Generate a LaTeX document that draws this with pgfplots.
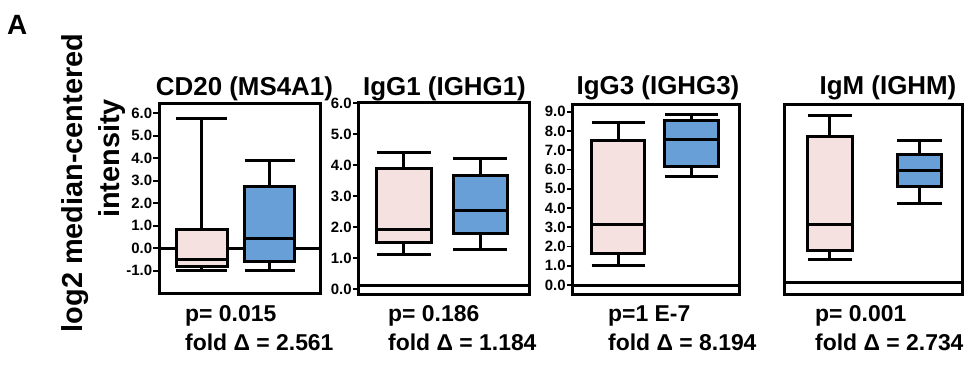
\documentclass[border=0pt]{standalone}
\usepackage{pgfplots}
\pgfplotsset{compat=1.18}
\usepgfplotslibrary{statistics}
\usepackage{fontspec}
\setmainfont{Liberation Sans}
\definecolor{pinkfill}{RGB}{245,226,224}
\definecolor{bluefill}{RGB}{103,159,214}
\pgfplotsset{
  panel/.style={
    scale only axis, anchor=south west,
    xmin=0, xmax=1, xtick=\empty,
    boxplot/draw direction=y,
    axis line style={line width=3bp},
    ytick pos=left, tick align=outside,
    major tick length=6bp,
    every tick/.style={black, line width=1.8bp},
    yticklabel style={font=\fontsize{15}{15}\selectfont\bfseries, inner xsep=1bp},
    /pgf/number format/assume math mode=true,
    /pgf/number format/fixed,
    /pgf/number format/fixed zerofill,
    /pgf/number format/precision=1,
    clip=false,
  },
  bx/.style={line width=3bp, draw=black, solid,
    boxplot/every median/.style={line width=3bp, draw=black},
    boxplot/every whisker/.style={line width=3bp, draw=black},
    boxplot/every box/.style={line width=3bp, draw=black}},
  zl/.style={line width=3bp, black, no marks},
}
\begin{document}
\begin{tikzpicture}
\useasboundingbox (0,0) rectangle (969bp,366bp);

% CD20
\begin{axis}[panel, at={(159.3bp,72.7bp)}, width=160.7bp, height=189.3bp,
  ymin=-2.0, ymax=6.41, ytick={-1,0,...,6}]
\addplot[zl] coordinates {(0,0) (1,0)};
\addplot[bx, fill=pinkfill, boxplot prepared={lower whisker=-0.97, lower quartile=-0.79, median=-0.52, upper quartile=0.83, upper whisker=5.75, draw position=0.264, box extend=0.32, whisker extend=0.32}] coordinates {};
\addplot[bx, fill=bluefill, boxplot prepared={lower whisker=-1.0, lower quartile=-0.6, median=0.42, upper quartile=2.76, upper whisker=3.91, draw position=0.687, box extend=0.31, whisker extend=0.31}] coordinates {};
\end{axis}

% IgG1
\begin{axis}[panel, at={(358.8bp,71.7bp)}, width=170.4bp, height=191.6bp,
  ymin=-0.17, ymax=6.02, ytick={0,1,...,6}]
\addplot[zl] coordinates {(0,0.12) (1,0.12)};
\addplot[bx, fill=pinkfill, boxplot prepared={lower whisker=1.11, lower quartile=1.51, median=1.92, upper quartile=3.89, upper whisker=4.4, draw position=0.264, box extend=0.32, whisker extend=0.32}] coordinates {};
\addplot[bx, fill=bluefill, boxplot prepared={lower whisker=1.27, lower quartile=1.78, median=2.54, upper quartile=3.68, upper whisker=4.21, draw position=0.713, box extend=0.315, whisker extend=0.315}] coordinates {};
\end{axis}

% IgG3
\begin{axis}[panel, at={(572.8bp,71.7bp)}, width=166.7bp, height=189.3bp,
  ymin=-0.48, ymax=9.35, ytick={0,1,...,9}]
\addplot[zl] coordinates {(0,0) (1,0)};
\addplot[bx, fill=pinkfill, boxplot prepared={lower whisker=1.0, lower quartile=1.63, median=3.17, upper quartile=7.5, upper whisker=8.42, draw position=0.273, box extend=0.32, whisker extend=0.32}] coordinates {};
\addplot[bx, fill=bluefill, boxplot prepared={lower whisker=5.65, lower quartile=6.17, median=7.58, upper quartile=8.55, upper whisker=8.87, draw position=0.713, box extend=0.32, whisker extend=0.32}] coordinates {};
\end{axis}

% IgM
\begin{axis}[panel, at={(784.5bp,71bp)}, width=178.3bp, height=190bp,
  ymin=-0.64, ymax=9.21, ytick=\empty]
\addplot[zl] coordinates {(0,0) (1,0)};
\addplot[bx, fill=pinkfill, boxplot prepared={lower whisker=1.21, lower quartile=1.66, median=3.04, upper quartile=7.56, upper whisker=8.69, draw position=0.255, box extend=0.25, whisker extend=0.25}] coordinates {};
\addplot[bx, fill=bluefill, boxplot prepared={lower whisker=4.11, lower quartile=4.98, median=5.84, upper quartile=6.62, upper whisker=7.36, draw position=0.758, box extend=0.25, whisker extend=0.25}] coordinates {};
\end{axis}

% titles
\begin{scope}[every node/.style={inner sep=0pt, font=\fontsize{26}{26}\selectfont\bfseries}]
\node[anchor=base] at (244.5bp,270bp) {CD20 (MS4A1)};
\node[anchor=base] at (444.5bp,270bp) {IgG1 (IGHG1)};
\node[anchor=base] at (658bp,271bp) {IgG3 (IGHG3)};
\node[anchor=base] at (888bp,271bp) {IgM (IGHM)};
\end{scope}

% panel letter and y label
\node[anchor=base west, inner sep=0pt, font=\fontsize{28}{28}\selectfont\bfseries] at (7bp,331bp) {A};
\node[rotate=90, anchor=base, inner sep=0pt, font=\fontsize{29}{29}\selectfont\bfseries] at (82bp,183bp) {log2 median-centered};
\node[rotate=90, anchor=base, inner sep=0pt, font=\fontsize{29}{29}\selectfont\bfseries] at (119bp,207.5bp) {intensity};

% statistics text
\begin{scope}[every node/.style={inner sep=0pt, anchor=base west, font=\fontsize{23}{23}\selectfont\bfseries}]
\node at (185bp,44.5bp) {p= 0.015};
\node at (185bp,16bp) {fold Δ = 2.561};
\node at (388bp,44.5bp) {p= 0.186};
\node at (388bp,16bp) {fold Δ = 1.184};
\node at (608bp,44.5bp) {p=1 E-7};
\node at (608bp,16bp) {fold Δ = 8.194};
\node at (815bp,44.5bp) {p= 0.001};
\node at (815bp,16bp) {fold Δ = 2.734};
\end{scope}
\end{tikzpicture}
\end{document}
